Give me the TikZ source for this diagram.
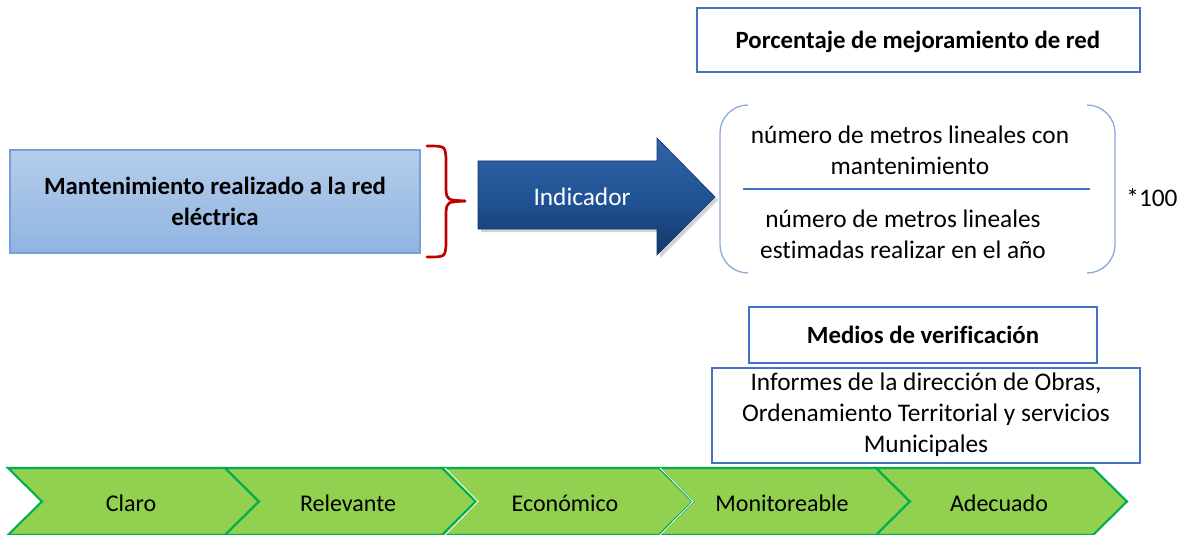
\documentclass[tikz,border=0pt]{standalone}
\usepackage{fontspec}
\setmainfont[Ligatures={NoCommon}]{Carlito}
\definecolor{boxblue}{RGB}{68,114,196}
\definecolor{parenblue}{RGB}{143,170,220}
\definecolor{lbtop}{RGB}{182,205,235}
\definecolor{lbbot}{RGB}{143,180,225}
\definecolor{lbdraw}{RGB}{120,160,215}
\definecolor{bracered}{RGB}{192,0,0}
\definecolor{arrtop}{RGB}{50,100,165}
\definecolor{arrmid}{RGB}{33,84,150}
\definecolor{arrbot}{RGB}{20,55,105}
\definecolor{chevfill}{RGB}{146,208,80}
\definecolor{chevdraw}{RGB}{0,176,80}
\begin{document}
\begin{tikzpicture}[x=0.75pt,y=-0.75pt,
  txt/.style={font=\fontsize{19}{23.3}\selectfont, align=center, inner sep=0},
  btxt/.style={font=\fontsize{18.6}{23.3}\selectfont\bfseries, align=center, inner sep=0},
  wbox/.style={draw=boxblue, line width=0.9pt, fill=white},
  chev/.style={fill=chevfill, draw=chevdraw, line width=1.6pt, line join=miter},
  ctxt/.style={font=\fontsize{18}{22}\selectfont, inner sep=0}]
\useasboundingbox (0,0) rectangle (1183,535);

% left box
\path[draw=lbdraw, line width=0.8pt, top color=lbtop, bottom color=lbbot] (10,150) rectangle (420,253);
\node[btxt] (mant) at (215,201) {Mantenimiento realizado a la red\\eléctrica};

% red brace
\draw[bracered, line width=2pt, line cap=round]
  (427,146) .. controls (445,146) .. (446,158) -- (446,190)
  .. controls (447,200) .. (465,201);
\draw[bracered, line width=2pt, line cap=round]
  (465,201) .. controls (447,202) .. (446,212) -- (446,245)
  .. controls (445,257) .. (427,257);

% blue arrow
\fill[black!35, opacity=0.5] (481,164) -- (660,164) -- (660,141) -- (718,200) -- (660,258) -- (660,232) -- (481,232) -- cycle;
\shade[top color=arrtop, bottom color=arrbot, middle color=arrmid, draw=arrbot, line width=0.5pt]
  (478,161) -- (657,161) -- (657,138) -- (715,197) -- (657,255) -- (657,229) -- (478,229) -- cycle;
\node[txt, text=white] (ind) at (582,197) {Indicador};

% title box
\path[wbox] (697,8) rectangle (1140,72);
\node[btxt] (title) at (918,42) {Porcentaje de mejoramiento de red};

% parentheses
\draw[parenblue, line width=1pt] (748,105) .. controls (732.6,105) and (720,117.6) .. (720,133) -- (720,245) .. controls (720,260.4) and (732.6,273) .. (748,273);
\draw[parenblue, line width=1pt] (1087,105) .. controls (1102.4,105) and (1115,117.6) .. (1115,133) -- (1115,245) .. controls (1115,260.4) and (1102.4,273) .. (1087,273);
\coordinate (fl) at (743,189);
\coordinate (fr) at (1090,189);
\draw[boxblue, line width=0.8pt] (fl) -- (fr);
\node[txt] (num) at (910,150) {número de metros lineales con\\mantenimiento};
\node[txt] (den) at (903,234) {número de metros lineales\\estimadas realizar en el año};
\node[txt] (cien) at (1152,198) {*100};

% verification boxes
\path[wbox] (749,307) rectangle (1097,363);
\node[btxt] (medios) at (923,335) {Medios de verificación};
\path[wbox] (712,368) rectangle (1140,463);
\node[txt] (inf) at (926,415) {Informes de la dirección de Obras,\\Ordenamiento Territorial y servicios\\Municipales};

% chevrons
\foreach \i/\t in {0/Claro,1/Relevante,2/Económico,3/Monitoreable,4/Adecuado}{
  \pgfmathsetmacro{\L}{8+217*\i}
  \path[chev] (\L,468) -- (\L+217,468) -- (\L+251,501.5) -- (\L+217,535) -- (\L,535) -- (\L+34,501.5) -- cycle;
  \node[ctxt] (c\i) at (\L+123,503) {\t};
}
\draw[white, line width=0.6pt] (445,468) -- (478,501.5) -- (445,535);
\draw[white, line width=0.6pt] (660,468) -- (693,501.5) -- (660,535);
\end{tikzpicture}
\end{document}
